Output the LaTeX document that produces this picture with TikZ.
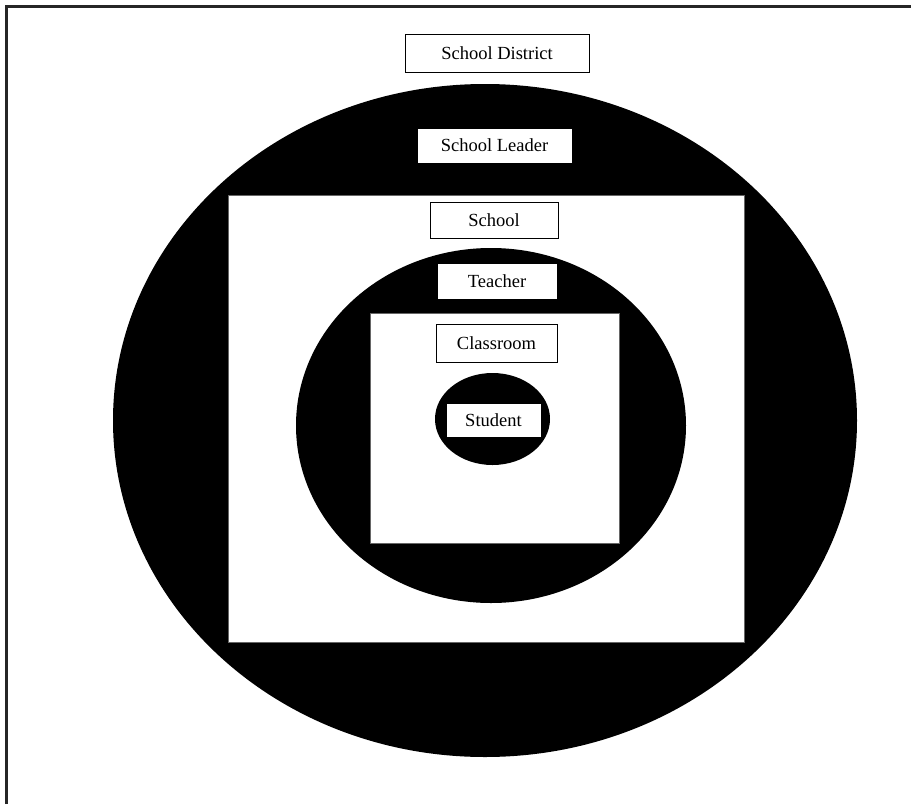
\documentclass[tikz,border=0pt]{standalone}
\usepackage{fontspec}
\setmainfont{Liberation Serif}
\begin{document}
\begin{tikzpicture}[x=1pt,y=-1pt,
  lbl/.style={draw=black,line width=0.9pt,fill=white,inner sep=0pt,font=\fontsize{18.5}{20}\selectfont},
  blob/.style={fill=black},
  hole/.style={fill=white}]
\useasboundingbox (0,0) rectangle (911,804);
\draw[line width=2.2pt,black!85] (6.5,804) -- (6.5,6.5) -- (911,6.5);
% outer ellipse
\fill[blob] (485,420.5) ellipse [x radius=372, y radius=336.5];
\fill[hole] (228,195) rectangle (744,642);
\draw[black!60,line width=0.5pt] (228,195) rectangle (744,642);
\fill[blob] (491,425.5) ellipse [x radius=195, y radius=177.5];
\fill[hole] (370,313) rectangle (619,543);
\draw[black!60,line width=0.5pt] (370,313) rectangle (619,543);
\fill[blob] (492.5,419) ellipse [x radius=57.5, y radius=46];
% labels
\node[lbl,minimum width=184pt,minimum height=38pt] (district) at (497,53) {School District};
\node[lbl,minimum width=155pt,minimum height=35pt] (leader) at (494.5,145.5) {School Leader};
\node[lbl,minimum width=128pt,minimum height=36pt] (school) at (494,220) {School};
\node[lbl,minimum width=120pt,minimum height=36pt] (teacher) at (497,281) {Teacher};
\node[lbl,minimum width=121pt,minimum height=38pt] (classroom) at (496.5,343) {Classroom};
\node[lbl,minimum width=95pt,minimum height=34pt] (student) at (493.5,420) {Student};
\end{tikzpicture}
\end{document}
